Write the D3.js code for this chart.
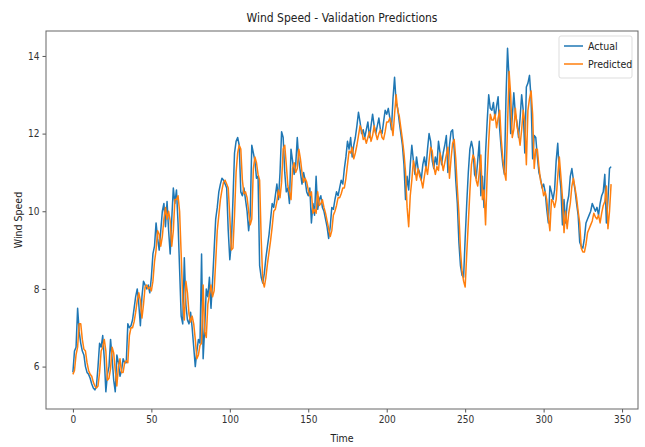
<!DOCTYPE html>
<html><head><meta charset="utf-8">
<script src="https://cdn.jsdelivr.net/npm/d3@7"></script>
<style>
body{margin:0;background:#fff;}
text{font-family:"DejaVu Sans Condensed","DejaVu Sans",sans-serif;font-stretch:condensed;}
</style></head>
<body><svg id="c" width="645" height="447"></svg>
<script>
const actual = [5.85,6.4,6.5,7.5,6.9,6.6,6.4,6.3,6.0,5.85,5.8,5.7,5.55,5.45,5.4,5.5,6.0,6.6,6.5,6.8,
6.2,5.35,5.8,6.0,6.7,6.2,5.65,5.35,6.3,6.1,5.75,5.9,6.2,6.1,6.1,7.1,7.0,7.05,7.2,7.5,
7.8,8.0,7.6,7.05,7.8,8.2,8.1,8.0,8.1,7.9,8.3,8.9,9.1,9.7,9.3,9.0,9.5,10.0,10.2,9.6,
10.25,9.5,8.9,9.8,10.6,10.2,10.55,9.7,8.5,7.3,7.1,8.8,7.6,7.2,7.1,7.4,7.0,6.5,6.0,6.4,
6.7,6.6,8.9,6.2,7.0,8.0,7.8,8.3,7.5,8.2,9.0,9.8,10.1,10.5,10.7,10.85,10.8,10.7,10.6,9.5,
8.75,9.2,10.3,11.5,11.8,11.9,11.7,10.5,10.4,10.6,10.3,10.0,9.5,9.9,11.7,11.5,11.3,10.85,10.9,8.6,
8.3,8.15,8.4,8.8,9.1,9.4,9.8,10.2,10.1,10.4,10.7,10.3,11.0,12.05,11.9,11.0,10.5,10.6,10.2,11.6,
11.3,10.95,11.2,11.9,11.3,11.0,10.7,11.0,10.8,10.5,10.4,10.6,9.7,10.2,9.9,10.9,10.05,10.3,10.4,10.1,
10.0,9.8,9.6,9.3,9.6,10.1,10.05,10.3,10.5,10.4,10.6,10.8,10.7,11.1,11.4,11.8,11.6,11.9,11.4,11.7,
11.9,12.2,12.55,12.3,12.0,12.1,11.9,12.1,12.3,11.9,12.2,12.5,12.2,12.0,12.2,12.4,12.1,12.0,12.3,12.6,
12.5,12.65,12.4,12.1,12.9,13.45,12.8,12.65,12.3,12.0,11.7,11.2,10.3,10.9,10.55,11.2,11.7,11.3,10.95,11.4,
11.1,11.0,10.8,11.2,11.4,11.1,11.6,12.0,11.8,11.3,11.1,11.4,11.2,11.8,11.5,11.2,11.5,11.7,11.95,11.0,
11.7,12.05,12.1,11.6,10.8,10.2,9.2,8.6,8.35,8.3,9.3,10.2,11.0,11.6,11.8,11.6,10.95,10.85,11.3,11.8,
10.4,10.9,10.1,11.5,12.3,13.0,12.65,12.6,12.8,12.4,12.7,12.95,12.1,11.6,11.2,10.95,12.9,14.2,13.4,12.0,
12.4,13.05,12.5,12.3,11.9,12.4,13.0,12.6,11.5,13.2,13.3,13.5,12.9,11.35,11.95,11.9,11.4,11.0,10.85,10.6,
10.7,10.5,10.05,9.7,10.65,10.5,10.3,10.55,11.3,11.75,11.0,10.6,9.65,10.3,9.7,10.2,10.4,10.9,11.1,10.8,
10.55,10.2,9.9,9.2,9.1,9.05,9.3,9.7,9.8,9.9,10.0,10.2,10.1,10.0,10.1,9.9,10.2,10.4,10.5,10.95,
9.7,10.3,11.1,11.15];
const predicted = [5.8,5.9,6.3,6.5,7.1,7.1,6.7,6.45,6.4,6.1,5.9,5.8,5.75,5.6,5.5,5.45,5.5,5.85,6.4,6.5,
6.7,6.4,5.65,5.7,5.95,6.5,6.35,5.9,5.5,6.0,6.2,5.85,5.85,6.1,6.15,6.1,6.8,7.0,7.0,7.15,
7.4,7.7,7.9,7.7,7.25,7.6,8.05,8.1,8.0,8.05,7.95,8.2,8.7,9.0,9.5,9.4,9.1,9.35,9.8,10.1,
9.8,10.0,9.75,9.1,9.5,10.3,10.3,10.4,10.0,8.9,7.7,7.2,8.2,7.9,7.35,7.15,7.3,7.1,6.7,6.2,
6.3,6.55,6.6,8.1,6.9,6.75,7.6,7.85,8.1,7.8,7.95,8.7,9.5,9.9,10.3,10.55,10.75,10.8,10.7,10.6,
9.85,9.0,9.05,9.9,11.0,11.5,11.7,11.6,10.8,10.45,10.5,10.35,10.0,9.65,9.8,11.1,11.4,11.25,10.95,10.8,
9.3,8.2,8.05,8.3,8.65,8.95,9.25,9.6,10.0,10.05,10.25,10.55,10.35,10.75,11.6,11.7,11.2,10.65,10.5,10.3,
11.1,11.25,11.0,11.1,11.6,11.35,11.0,10.75,10.85,10.75,10.55,10.4,10.5,9.95,10.05,9.95,10.5,10.15,10.2,10.3,
10.1,9.95,9.75,9.55,9.35,9.5,9.9,10.0,10.15,10.35,10.35,10.45,10.6,10.6,10.85,11.2,11.55,11.5,11.65,11.35,
11.5,11.7,11.95,12.2,12.1,11.85,11.9,11.75,11.9,12.05,11.8,11.95,12.2,12.0,11.85,12.0,12.1,11.9,11.85,12.05,
12.3,12.3,12.4,12.25,11.95,12.5,13.0,12.6,12.45,12.15,11.85,11.5,11.0,10.1,9.6,10.4,10.8,11.3,11.1,10.8,
11.1,10.9,10.8,10.6,10.9,11.15,10.95,11.3,11.65,11.55,11.15,10.95,11.15,11.05,11.5,11.3,11.05,11.25,11.45,11.65,
10.85,11.35,11.75,11.85,11.35,10.6,9.95,9.0,8.45,8.2,8.05,8.9,9.7,10.5,11.2,11.45,11.35,10.8,10.65,11.0,
11.45,10.3,10.55,9.65,10.9,11.8,12.5,12.35,12.35,12.5,12.15,12.4,12.6,11.85,11.35,11.0,10.8,12.2,13.6,13.0,
11.9,12.1,12.65,12.2,12.0,11.7,12.1,12.6,12.3,11.2,12.6,12.9,13.1,12.5,11.1,11.6,11.6,11.15,10.8,10.65,
10.4,10.5,10.3,9.85,9.5,10.3,10.25,10.1,10.3,10.9,11.4,10.9,10.35,9.45,10.0,9.55,9.95,10.2,10.65,10.85,
10.6,10.35,10.0,9.7,9.05,8.95,8.95,9.15,9.45,9.55,9.65,9.75,9.95,9.85,9.8,9.9,9.7,9.95,10.15,10.25,
10.65,9.55,10.0,10.7];
const xTicks = [0,50,100,150,200,250,300,350];
const yTicks = [6,8,10,12,14];
const seriesNames = ["Actual","Predicted"];
const colors = ["#1f77b4","#ff7f0e"];

const svg = d3.select("#c");
const L=46,R=638,T=31,B=409;
const n = actual.length;
const x = d3.scaleLinear().domain([-0.05*(n-1),(n-1)*1.05]).range([L,R]);
const all = actual.concat(predicted);
const ymin=d3.min(all), ymax=d3.max(all), pad=(ymax-ymin)*0.05;
const y = d3.scaleLinear().domain([ymin-pad,ymax+pad]).range([B,T]);

const line = d3.line().x((d,i)=>x(i)).y(d=>y(d));
svg.append("path").datum(actual).attr("d",line).attr("fill","none").attr("stroke",colors[0]).attr("stroke-width",1.5).attr("stroke-linejoin","round");
svg.append("path").datum(predicted).attr("d",line).attr("fill","none").attr("stroke",colors[1]).attr("stroke-width",1.5).attr("stroke-linejoin","round");

const gx = svg.append("g").attr("transform",`translate(0,${B})`).call(d3.axisBottom(x).tickValues(xTicks).tickSize(3.5).tickPadding(3).tickFormat(d3.format("d")));
const gy = svg.append("g").attr("transform",`translate(${L},0)`).call(d3.axisLeft(y).tickValues(yTicks).tickSize(3.5).tickPadding(3).tickFormat(d3.format("d")));
[gx,gy].forEach(g=>{g.select(".domain").remove();g.selectAll("line").attr("stroke","#555");g.selectAll("text").attr("font-size",10).attr("fill","#333").style("font-family",'"DejaVu Sans Condensed","DejaVu Sans",sans-serif');});
svg.append("rect").attr("x",L).attr("y",T).attr("width",R-L).attr("height",B-T).attr("fill","none").attr("stroke","#666").attr("stroke-width",1);

svg.append("text").attr("x",(L+R)/2).attr("y",22).attr("text-anchor","middle").attr("font-size",12).attr("fill","#222").text("Wind Speed - Validation Predictions");
svg.append("text").attr("x",(L+R)/2).attr("y",442).attr("text-anchor","middle").attr("font-size",10.5).attr("fill","#222").text("Time");
svg.append("text").attr("transform",`translate(22,${(T+B)/2}) rotate(-90)`).attr("text-anchor","middle").attr("font-size",10.5).attr("fill","#222").text("Wind Speed");

const lg = svg.append("g");
lg.append("rect").attr("x",559).attr("y",36).attr("width",73).attr("height",42).attr("rx",2).attr("fill","#fff").attr("fill-opacity",0.8).attr("stroke","#ddd");
seriesNames.forEach((s,i)=>{
  const yy = 46+i*18;
  lg.append("line").attr("x1",564).attr("x2",583).attr("y1",yy).attr("y2",yy).attr("stroke",colors[i]).attr("stroke-width",1.5);
  lg.append("text").attr("x",588).attr("y",yy+4).attr("font-size",10.5).attr("fill","#222").text(s);
});
</script></body></html>
